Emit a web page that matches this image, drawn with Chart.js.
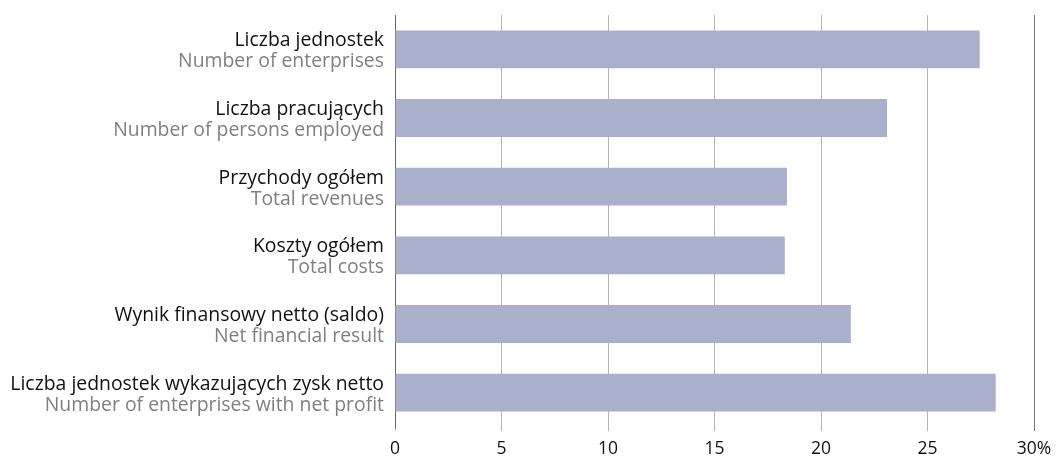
<!DOCTYPE html>
<html>
<head>
<meta charset="utf-8">
<script src="https://cdn.jsdelivr.net/npm/chart.js@4"></script>
<style>
  html, body { margin: 0; padding: 0; background: #fff; }
  #wrap { width: 1064px; height: 460px; }
</style>
</head>
<body>
<div id="wrap"><canvas id="chart" width="1064" height="460"></canvas></div>
<script>
// Category labels (Polish / English)
const labelsPl = [
  "Liczba jednostek",
  "Liczba pracujących",
  "Przychody ogółem",
  "Koszty ogółem",
  "Wynik finansowy netto (saldo)",
  "Liczba jednostek wykazujących zysk netto"
];
const labelsEn = [
  "Number of enterprises",
  "Number of persons employed",
  "Total revenues",
  "Total costs",
  "Net financial result",
  "Number of enterprises with net profit"
];
// Share in %
const values = [27.45, 23.1, 18.4, 18.3, 21.4, 28.2];
const xTicks = [0, 5, 10, 15, 20, 25, 30];

const FONT = "'Open Sans', 'Noto Sans', sans-serif";

// draws the two-colour category labels next to the y scale
const twoLineLabels = {
  id: "twoLineLabels",
  afterDraw(chart) {
    const ctx = chart.ctx;
    const y = chart.scales.y;
    const right = chart.chartArea.left - 11;
    ctx.save();
    ctx.textAlign = "right";
    ctx.textBaseline = "alphabetic";
    ctx.font = "19.4px " + FONT;
    labelsPl.forEach((pl, i) => {
      const cy = y.getPixelForValue(i);
      ctx.fillStyle = "#111";
      ctx.fillText(pl, right, cy - 3);
      ctx.fillStyle = "#808080";
      ctx.fillText(labelsEn[i], right, cy + 18);
    });
    ctx.restore();
  }
};

new Chart(document.getElementById("chart"), {
  type: "bar",
  data: {
    labels: labelsPl,
    datasets: [{
      data: values,
      backgroundColor: "#aab0cc",
      borderWidth: 0,
      barPercentage: 0.55,
      categoryPercentage: 1
    }]
  },
  options: {
    indexAxis: "y",
    responsive: false,
    animation: false,
    layout: { padding: { top: 15, right: 30, left: 0, bottom: 0 } },
    plugins: {
      legend: { display: false },
      tooltip: { enabled: false }
    },
    scales: {
      x: {
        min: 0,
        max: 30,
        afterBuildTicks(scale) {
          scale.ticks = xTicks.map(v => ({ value: v }));
        },
        afterFit(scale) { scale.height = 33; },
        grid: {
          color: ctx => ctx.tick && ctx.tick.value === 30 ? "#7a7a7a" : "#b3b3b3",
          lineWidth: 1,
          tickLength: 4,
          drawTicks: true
        },
        border: { display: false },
        ticks: {
          color: "#111",
          font: { family: FONT, size: 17.5 },
          padding: 8,
          callback: v => v === 30 ? "30%" : String(v)
        }
      },
      y: {
        afterFit(scale) { scale.width = 395; },
        grid: { display: false },
        border: { display: true, color: "#666", width: 1 },
        ticks: { display: false }
      }
    }
  },
  plugins: [twoLineLabels]
});
</script>
</body>
</html>
